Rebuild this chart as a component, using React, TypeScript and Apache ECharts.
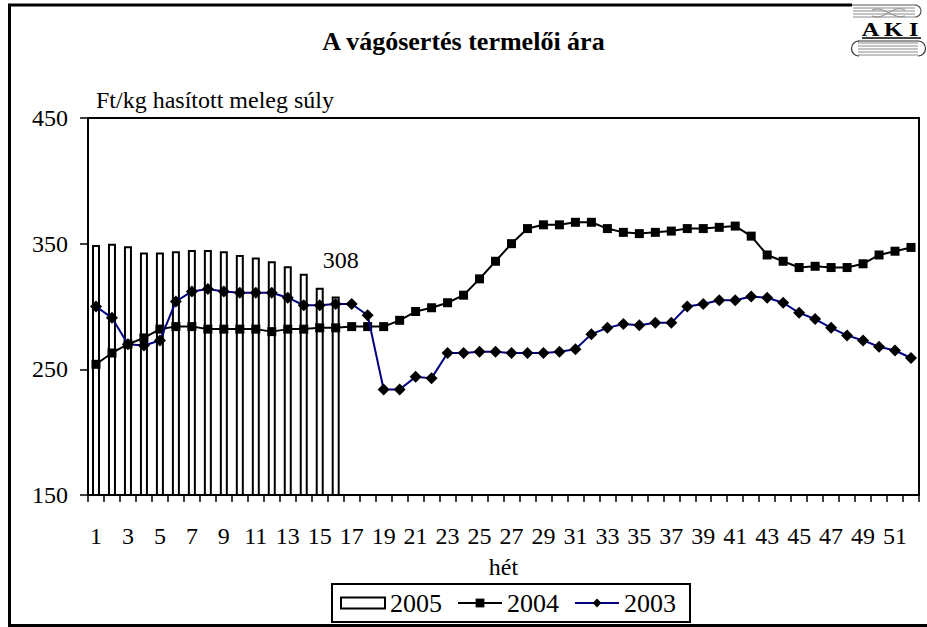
import React, { useEffect, useRef } from "react";
import * as echarts from "echarts";

const weeks = [
  "1","2","3","4","5","6","7","8","9","10","11","12","13","14","15","16","17","18","19","20","21","22","23","24","25","26",
  "27","28","29","30","31","32","33","34","35","36","37","38","39","40","41","42","43","44","45","46","47","48","49","50","51","52",
];

const prices2005 = [349, 350, 348, 343, 343, 344, 345, 345, 344, 341, 339, 336, 332, 326, 315, 308];

const prices2004 = [
  254, 263, 270, 275, 282, 284, 284, 282, 282, 282, 282, 280, 282, 282, 283, 283, 284, 284,
  284, 289, 296, 299, 303, 309, 322, 336, 350, 362, 365, 365, 367, 367, 362,
  359, 358, 359, 360, 362, 362, 363, 364, 356, 341, 336, 331, 332, 331, 331, 334, 341, 344, 347,
];

const prices2003 = [
  300, 291, 270, 269, 273, 304, 312, 314, 312, 311, 311, 311, 307, 301, 301, 302, 302, 293,
  234, 234, 244, 243, 263, 263, 264, 264, 263, 263, 263, 264, 266, 278, 283,
  286, 285, 287, 287, 300, 302, 305, 305, 308, 307, 303, 295, 290, 283, 277, 273, 268, 265, 259,
];

const yTicks = [150, 250, 350, 450];

const FONT = "Liberation Serif";

export default function App() {
  const ref = useRef<HTMLDivElement>(null);

  useEffect(() => {
    const chart = echarts.init(ref.current!, null, { renderer: "svg" });
    const barData = prices2005.map((v, i) =>
      i === prices2005.length - 1
        ? { value: v, label: { show: true, position: "top", distance: 24, offset: [5, 0], fontSize: 24, fontFamily: FONT, color: "#000" } }
        : v
    );
    const logoLines: any[] = [];
    [8, 11, 14, 17].forEach((y) =>
      logoLines.push({ type: "line", shape: { x1: 853, y1: y, x2: 915, y2: y }, style: { stroke: "#8a8a8a", lineWidth: 1 } })
    );
    [43, 46, 49, 52, 55].forEach((y) =>
      logoLines.push({ type: "line", shape: { x1: 858, y1: y, x2: 918, y2: y }, style: { stroke: "#8a8a8a", lineWidth: 1 } })
    );

    chart.setOption({
      animation: false,
      backgroundColor: "#fff",
      textStyle: { fontFamily: FONT },
      title: {
        text: "A vágósertés termelői ára",
        left: "center",
        top: 23,
        textStyle: { fontFamily: FONT, fontSize: 26, fontWeight: "bold", color: "#000" },
      },
      legend: {
        left: 332,
        top: 584,
        orient: "horizontal",
        itemWidth: 44,
        itemHeight: 11,
        itemGap: 15,
        padding: [6, 14, 6, 8],
        borderColor: "#000",
        borderWidth: 2,
        backgroundColor: "#fff",
        textStyle: { fontFamily: FONT, fontSize: 26, color: "#000" },
        data: [{ name: "2005", icon: "rect" }, { name: "2004" }, { name: "2003" }],
      },
      grid: {
        left: 88,
        top: 118,
        right: 8,
        bottom: 132,
        show: true,
        borderColor: "#000",
        borderWidth: 2,
        backgroundColor: "transparent",
      },
      xAxis: {
        type: "category",
        data: weeks,
        boundaryGap: true,
        name: "hét",
        nameLocation: "middle",
        nameGap: 60,
        nameTextStyle: { fontFamily: FONT, fontSize: 24, color: "#000" },
        axisLine: { show: true, lineStyle: { color: "#000", width: 2 } },
        axisTick: { show: true, alignWithLabel: false, interval: 0, length: 7, lineStyle: { color: "#000", width: 1.5 } },
        axisLabel: { interval: 1, fontFamily: FONT, fontSize: 24, color: "#000", margin: 29 },
        splitLine: { show: false },
      },
      yAxis: {
        type: "value",
        min: 150,
        max: 450,
        name: "Ft/kg hasított meleg súly",
        nameLocation: "end",
        nameGap: 18,
        nameTextStyle: { fontFamily: FONT, fontSize: 24, color: "#000", align: "left", verticalAlign: "middle", padding: [0, 0, 0, 8] },
        axisLine: { show: true, lineStyle: { color: "#000", width: 2 } },
        axisTick: { show: true, length: 8, customValues: yTicks, lineStyle: { color: "#000", width: 1.5 } },
        axisLabel: { customValues: yTicks, fontFamily: FONT, fontSize: 24, color: "#000", margin: 20 },
        splitLine: { show: false },
      },
      series: [
        {
          name: "2005",
          type: "bar",
          data: barData,
          barWidth: "50%",
          itemStyle: { color: "#fff", borderColor: "#000", borderWidth: 2 },
          z: 1,
        },
        {
          name: "2004",
          type: "line",
          data: prices2004,
          symbol: "rect",
          symbolSize: 9,
          showAllSymbol: true,
          lineStyle: { color: "#000", width: 2 },
          itemStyle: { color: "#000" },
          z: 3,
        },
        {
          name: "2003",
          type: "line",
          data: prices2003,
          symbol: "diamond",
          symbolSize: 12,
          showAllSymbol: true,
          lineStyle: { color: "#000080", width: 2 },
          itemStyle: { color: "#000" },
          z: 4,
        },
      ],
      graphic: [
        {
          type: "polyline",
          shape: { points: [[852, 5], [9.5, 5], [9.5, 625.5], [927, 625.5]] },
          style: { stroke: "#000", lineWidth: 3, fill: "none" },
          silent: true,
        },
        {
          type: "group",
          silent: true,
          children: [
            ...logoLines,
            { type: "line", shape: { x1: 852, y1: 5, x2: 916, y2: 5 }, style: { stroke: "#555", lineWidth: 1 } },
            { type: "bezierCurve", shape: { x1: 872, y1: 10, x2: 905, y2: 16, cpx1: 885, cpy1: 5, cpx2: 892, cpy2: 20 }, style: { stroke: "#8a8a8a", lineWidth: 1, fill: "none" } },
            { type: "bezierCurve", shape: { x1: 872, y1: 16, x2: 905, y2: 10, cpx1: 885, cpy1: 21, cpx2: 892, cpy2: 4 }, style: { stroke: "#8a8a8a", lineWidth: 1, fill: "none" } },
            { type: "arc", shape: { cx: 915, cy: 11, r: 6, startAngle: -Math.PI / 2, endAngle: Math.PI / 2 }, style: { stroke: "#555", lineWidth: 1.2, fill: "none" } },
            {
              type: "text",
              x: 890,
              y: 30,
              scaleX: 1.35,
              style: { text: "A K I", fontFamily: FONT, fontSize: 18, fontWeight: "bold", fill: "#000", align: "center", verticalAlign: "middle" },
            },
            { type: "line", shape: { x1: 862, y1: 38, x2: 921, y2: 38 }, style: { stroke: "#000", lineWidth: 1.5 } },
            { type: "line", shape: { x1: 858, y1: 41, x2: 918, y2: 41 }, style: { stroke: "#333", lineWidth: 1 } },
            { type: "arc", shape: { cx: 859, cy: 48.5, r: 7.5, startAngle: Math.PI / 2, endAngle: (3 * Math.PI) / 2 }, style: { stroke: "#333", lineWidth: 1.2, fill: "none" } },
            { type: "arc", shape: { cx: 918, cy: 48.5, r: 7.5, startAngle: -Math.PI / 2, endAngle: Math.PI / 2 }, style: { stroke: "#333", lineWidth: 1.2, fill: "none" } },
          ],
        },
      ],
    });
    return () => chart.dispose();
  }, []);

  return (
    <div
      ref={ref}
      style={{ position: "fixed", left: 0, top: 0, width: 927, height: 627, background: "#fff" }}
    />
  );
}
